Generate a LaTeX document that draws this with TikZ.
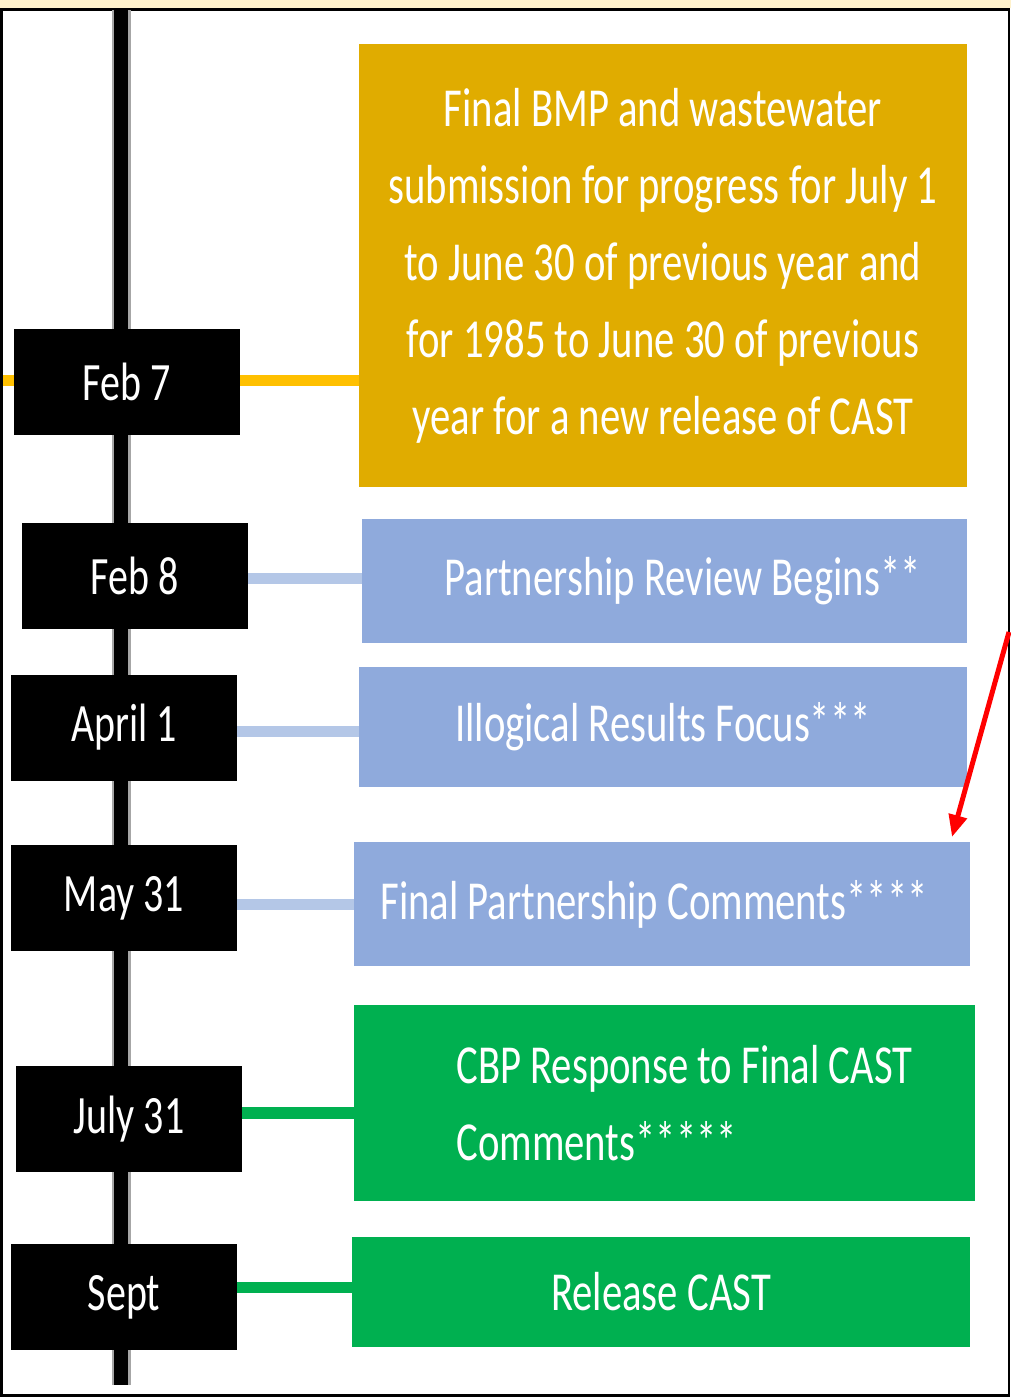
\documentclass[tikz,border=0pt]{standalone}
\usepackage{fontspec}
\setmainfont{Carlito}[FakeStretch=0.74]
\usetikzlibrary{arrows.meta,backgrounds}

\definecolor{cream}{HTML}{FFF2CC}
\definecolor{goldbox}{HTML}{E0AC00}
\definecolor{goldline}{HTML}{FFC000}
\definecolor{bluebox}{HTML}{8FAADC}
\definecolor{blueline}{HTML}{B4C7E7}
\definecolor{greenbox}{HTML}{00B050}

\tikzset{
  datebox/.style={fill=black, text=white, inner sep=0pt,
    minimum width=226pt, minimum height=106pt,
    font=\fontsize{54}{60}\selectfont},
  eventbox/.style={text=white, inner sep=0pt, align=center,
    font=\fontsize{55}{77}\selectfont},
  link/.style={line width=11pt}
}

\begin{document}
\begin{tikzpicture}[x=1pt,y=-1pt]
	\useasboundingbox (0,0) rectangle (1011,1397);

	% dates
	\node[datebox] (d1) at (126.5,382) {Feb 7};
	\node[datebox] (d2) at (134.5,576) {Feb 8};
	\node[datebox] (d3) at (124,727.5) {April 1};
	\node[datebox] (d4) at (124,898) {May 31};
	\node[datebox] (d5) at (129,1119) {July 31};
	\node[datebox] (d6) at (124,1297) {Sept};

	% events
	\node[eventbox, fill=goldbox, minimum width=608pt, minimum height=443pt] (e1) at (663,265.5)
	  {Final BMP and wastewater\\ submission for progress for July 1\\ to June 30 of previous year and\\ for 1985 to June 30 of previous\\ year for a new release of CAST};
	\node[eventbox, fill=bluebox, minimum width=605pt, minimum height=124pt] (e2) at (664.5,581)
	  {\hspace*{36pt}Partnership Review Begins**};
	\node[eventbox, fill=bluebox, minimum width=608pt, minimum height=120pt] (e3) at (663,727)
	  {Illogical Results Focus***};
	\node[eventbox, fill=bluebox, minimum width=616pt, minimum height=124pt] (e4) at (662,904)
	  {Final Partnership Comments****\hspace*{16pt}};
	\node[eventbox, fill=greenbox, align=left, minimum width=621pt, minimum height=196pt] (e5) at (664.5,1103)
	  {\hspace*{40pt}CBP Response to Final CAST\\ \hspace*{40pt}Comments*****};
	\node[eventbox, fill=greenbox, minimum width=618pt, minimum height=110pt] (e6) at (661,1292)
	  {Release CAST};

	\coordinate (top) at (121,10);
	\coordinate (bottom) at (121,1385);
	\coordinate (edge) at (3,380);

	\begin{scope}[on background layer]
	  \fill[white] (0,8) rectangle (1011,1397);
	  \fill[cream] (0,0) rectangle (1011,8);
	  \draw[line width=2.5pt] (1.5,9.5) rectangle (1009,1395.5);
	  \draw[line width=19pt, gray!70] (top) -- (bottom);
	  \draw[line width=14pt] (top) -- (bottom);
	  \draw[link, goldline] (edge) -- (edge -| e1.west);
	  \draw[link, blueline] (d2.east |- 0,578) -- (e2.west |- 0,578);
	  \draw[link, blueline] (d3.east |- 0,731) -- (e3.west |- 0,731);
	  \draw[link, blueline] (d4.east |- 0,904.5) -- (e4.west |- 0,904.5);
	  \draw[link, greenbox, line width=12pt] (d5.east |- 0,1113) -- (e5.west |- 0,1113);
	  \draw[link, greenbox] (d6.east |- 0,1287.5) -- (e6.west |- 0,1287.5);
	\end{scope}

	% pointer
	\coordinate (from) at (1009,632);
	\coordinate (tip) at (952,837);
	\draw[red, line width=5pt, -{Triangle[length=22pt,width=18pt]}] (from) -- (tip);
\end{tikzpicture}
\end{document}
